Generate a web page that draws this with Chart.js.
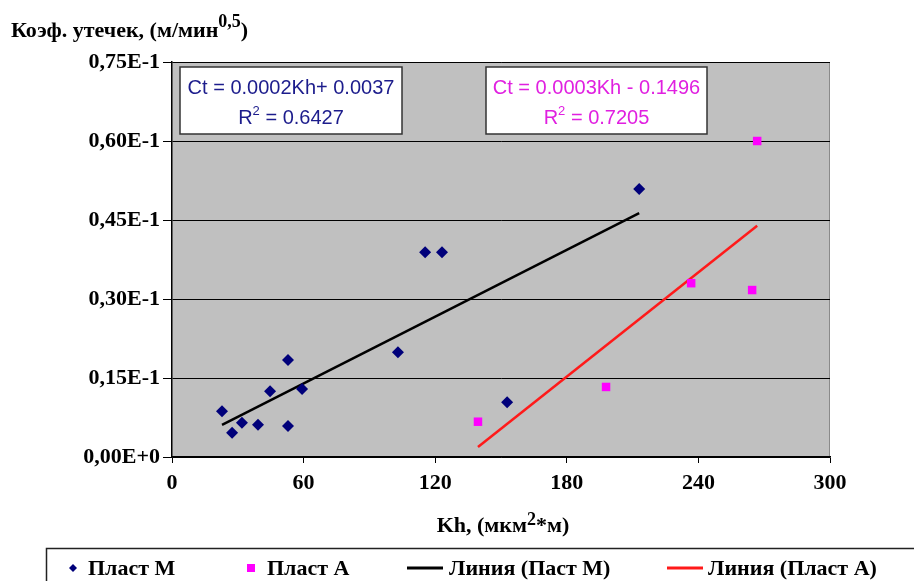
<!DOCTYPE html>
<html>
<head>
<meta charset="utf-8">
<script src="https://cdn.jsdelivr.net/npm/chart.js@4.4.0/dist/chart.umd.min.js"></script>
<style>
  html, body { margin: 0; padding: 0; background: #fff; }
  canvas { display: block; }
</style>
</head>
<body>
<canvas id="leakChart" width="914" height="581"></canvas>
<script>
// Пласт М
const plastM_kh = [22.8, 27.4, 31.9, 39.2, 44.7, 52.9, 52.9, 59.3, 103, 115.4, 123.1, 152.8, 213];
const plastM_ct = [0.0087, 0.0046, 0.0065, 0.0061, 0.0125, 0.0184, 0.0059, 0.0129, 0.0199, 0.0389, 0.0389, 0.0104, 0.0509];
// Пласт А
const plastA_kh = [139.5, 197.9, 236.7, 264.5, 266.8];
const plastA_ct = [0.0067, 0.0133, 0.0330, 0.0317, 0.0600];
// линии тренда (концы)
const trendM_kh = [22.8, 213];
const trendM_ct = [0.0061, 0.0463];
const trendA_kh = [139.5, 266.8];
const trendA_ct = [0.0019, 0.0439];

const xTicks = [0, 60, 120, 180, 240, 300];
const yTicks = [0, 0.015, 0.03, 0.045, 0.06, 0.075];
const yTickLabels = ['0,00E+0', '0,15E-1', '0,30E-1', '0,45E-1', '0,60E-1', '0,75E-1'];

const legendLabels = ['Пласт М', 'Пласт А', 'Линия (Паст М)', 'Линия (Пласт А)'];
const eqM = ['Ct = 0.0002Kh+ 0.0037', '0.6427'];
const eqA = ['Ct = 0.0003Kh - 0.1496', '0.7205'];

const NAVY = '#00007a';
const MAGENTA = '#ff00ff';
const RED = '#ff1a1a';
const SERIF = '"Liberation Serif", "Times New Roman", serif';
const SANS = '"Liberation Sans", Arial, sans-serif';

const toPts = (xs, ys) => xs.map((x, i) => ({ x: x, y: ys[i] }));

// серый фон области построения
const plotBg = {
  id: 'plotBg',
  beforeDraw(chart) {
    const { ctx, chartArea: a } = chart;
    ctx.save();
    ctx.fillStyle = '#c0c0c0';
    ctx.fillRect(a.left, a.top, a.right - a.left, a.bottom - a.top);
    ctx.strokeStyle = '#8a8a8a';
    ctx.lineWidth = 1;
    ctx.beginPath();
    ctx.moveTo(a.left, a.top + 0.5);
    ctx.lineTo(a.right - 0.5, a.top + 0.5);
    ctx.lineTo(a.right - 0.5, a.bottom);
    ctx.stroke();
    ctx.restore();
  }
};

// текст с верхним индексом: [текст, индекс?]
function supText(ctx, parts, x, y, align, big, small, rise) {
  const fnt = p => 'bold ' + (p[1] ? small : big) + 'px ' + SERIF;
  let total = 0;
  parts.forEach(p => { ctx.font = fnt(p); total += ctx.measureText(p[0]).width; });
  let cx = align === 'center' ? x - total / 2 : x;
  ctx.textAlign = 'left';
  parts.forEach(p => {
    ctx.font = fnt(p);
    ctx.fillText(p[0], cx, p[1] ? y - rise : y);
    cx += ctx.measureText(p[0]).width;
  });
}

function eqBox(ctx, x1, y1, x2, y2, lines, color) {
  ctx.fillStyle = '#fff';
  ctx.fillRect(x1, y1, x2 - x1, y2 - y1);
  ctx.strokeStyle = '#333';
  ctx.lineWidth = 1.5;
  ctx.strokeRect(x1, y1, x2 - x1, y2 - y1);
  ctx.fillStyle = color;
  ctx.textBaseline = 'alphabetic';
  const cx = (x1 + x2) / 2;
  ctx.textAlign = 'center';
  ctx.font = '20px ' + SANS;
  ctx.fillText(lines[0], cx, y1 + 27);
  // R^2 = ...
  const a = 'R', b = '2', c = ' = ' + lines[1];
  ctx.font = '20px ' + SANS;
  const wa = ctx.measureText(a).width, wc = ctx.measureText(c).width;
  ctx.font = '13px ' + SANS;
  const wb = ctx.measureText(b).width;
  const sx = cx - (wa + wb + wc) / 2;
  ctx.textAlign = 'left';
  ctx.font = '20px ' + SANS;
  ctx.fillText(a, sx, y1 + 57);
  ctx.font = '13px ' + SANS;
  ctx.fillText(b, sx + wa, y1 + 48);
  ctx.font = '20px ' + SANS;
  ctx.fillText(c, sx + wa + wb, y1 + 57);
}

const decor = {
  id: 'decor',
  afterDraw(chart) {
    const ctx = chart.ctx;
    ctx.save();
    ctx.fillStyle = '#000';
    ctx.textBaseline = 'alphabetic';
    // подпись оси Y
    supText(ctx, [['Коэф. утечек, (м/мин', false], ['0,5', true], [')', false]], 11, 37, 'left', 22, 18, 10);
    // подпись оси X
    supText(ctx, [['Kh, (мкм', false], ['2', true], ['*м)', false]], 503, 532, 'center', 22, 18, 7);

    eqBox(ctx, 180, 67, 402, 134, eqM, '#1c1c8c');
    eqBox(ctx, 486, 67, 707, 134, eqA, '#e020e0');

    // легенда
    ctx.strokeStyle = '#222';
    ctx.lineWidth = 1.5;
    ctx.strokeRect(46.5, 548.5, 880, 60);
    const ly = 568;
    const tb = 575;
    ctx.textAlign = 'left';
    ctx.textBaseline = 'alphabetic';
    ctx.font = 'bold 22px ' + SERIF;
    // ромб
    ctx.fillStyle = NAVY;
    ctx.beginPath();
    ctx.moveTo(73, ly - 4); ctx.lineTo(77, ly); ctx.lineTo(73, ly + 4); ctx.lineTo(69, ly);
    ctx.closePath(); ctx.fill();
    ctx.fillStyle = '#000';
    ctx.fillText(legendLabels[0], 88, tb);
    // квадрат
    ctx.fillStyle = MAGENTA;
    ctx.fillRect(247, ly - 4, 8, 8);
    ctx.fillStyle = '#000';
    ctx.fillText(legendLabels[1], 267, tb);
    // линии
    ctx.lineWidth = 3;
    ctx.strokeStyle = '#000';
    ctx.beginPath(); ctx.moveTo(407, ly); ctx.lineTo(443, ly); ctx.stroke();
    ctx.fillText(legendLabels[2], 449, tb);
    ctx.strokeStyle = RED;
    ctx.beginPath(); ctx.moveTo(667, ly); ctx.lineTo(703, ly); ctx.stroke();
    ctx.fillText(legendLabels[3], 708, tb);
    ctx.restore();
  }
};

new Chart(document.getElementById('leakChart'), {
  type: 'scatter',
  data: {
    datasets: [
      {
        label: legendLabels[0],
        data: toPts(plastM_kh, plastM_ct),
        pointStyle: 'rectRot',
        pointRadius: 6,
        backgroundColor: NAVY,
        borderColor: NAVY,
        borderWidth: 0
      },
      {
        label: legendLabels[1],
        data: toPts(plastA_kh, plastA_ct),
        pointStyle: 'rect',
        pointRadius: 6,
        backgroundColor: MAGENTA,
        borderColor: MAGENTA,
        borderWidth: 0
      },
      {
        label: legendLabels[2],
        type: 'line',
        data: toPts(trendM_kh, trendM_ct),
        borderColor: '#000',
        borderWidth: 2.5,
        pointRadius: 0,
        fill: false
      },
      {
        label: legendLabels[3],
        type: 'line',
        data: toPts(trendA_kh, trendA_ct),
        borderColor: RED,
        borderWidth: 2.5,
        pointRadius: 0,
        fill: false
      }
    ]
  },
  options: {
    responsive: false,
    animation: false,
    layout: { padding: { left: 0, right: 84, top: 62, bottom: 0 } },
    plugins: {
      legend: { display: false },
      tooltip: { enabled: false }
    },
    scales: {
      x: {
        type: 'linear',
        min: 0,
        max: 300,
        afterBuildTicks: s => { s.ticks = xTicks.map(v => ({ value: v })); },
        afterFit: s => { s.height = 124; },
        border: { color: '#000', width: 1.5 },
        grid: { drawOnChartArea: false, color: '#000', tickLength: 6 },
        ticks: {
          color: '#000',
          padding: 7,
          maxRotation: 0,
          font: { family: SERIF, size: 22, weight: 'bold' }
        }
      },
      y: {
        min: 0,
        max: 0.075,
        afterBuildTicks: s => { s.ticks = yTicks.map(v => ({ value: v })); },
        afterFit: s => { s.width = 172; },
        border: { color: '#000', width: 1.5 },
        grid: { color: '#000', lineWidth: 1, tickLength: 9 },
        ticks: {
          color: '#000',
          padding: 3,
          font: { family: SERIF, size: 22, weight: 'bold' },
          callback: (v) => yTickLabels[yTicks.findIndex(t => Math.abs(t - v) < 1e-9)]
        }
      }
    }
  },
  plugins: [plotBg, decor]
});
</script>
</body>
</html>
